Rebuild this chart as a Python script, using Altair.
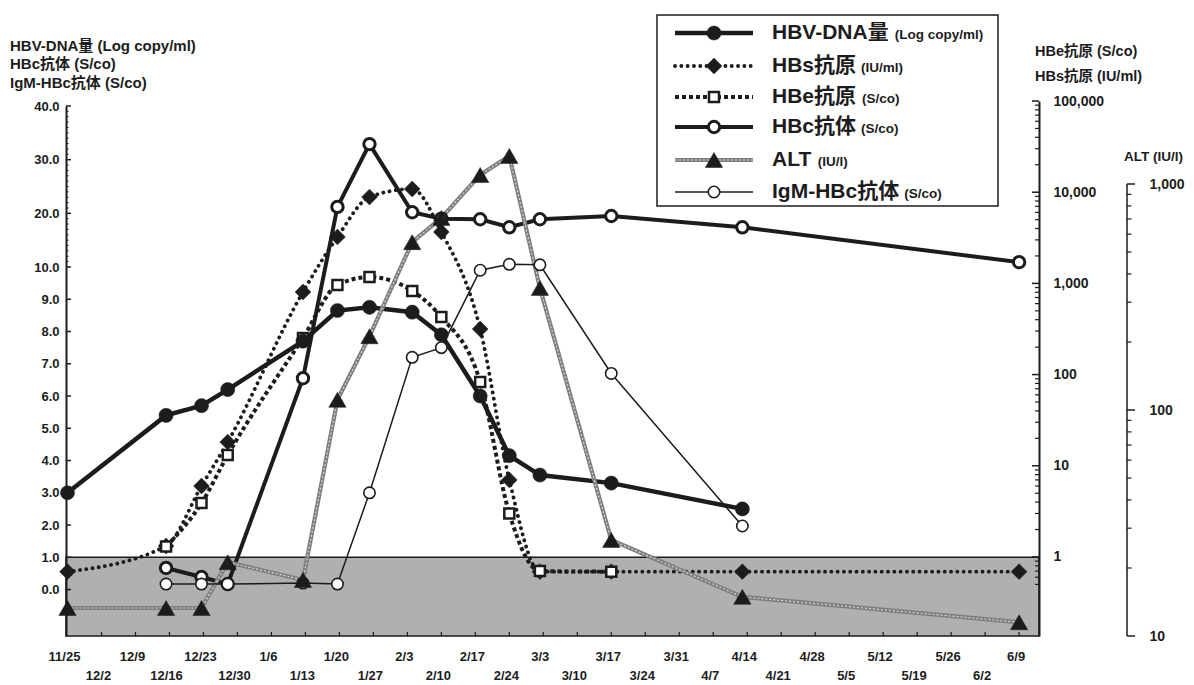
import altair as alt
import pandas as pd

# ---------------- data ----------------
dates = ["11/25", "12/16", "12/23", "12/28", "1/13", "1/20", "1/27", "2/4",
         "2/10", "2/18", "2/24", "3/3", "3/17", "4/13", "6/9"]
days = [0, 20.3, 27.6, 33.0, 48.5, 55.6, 62.2, 71.0, 77.0, 85.0, 91.0, 97.3, 112.0, 139.0, 196.0]

hbv_dna = [3.0, 5.4, 5.7, 6.2, 7.7, 8.65, 8.75, 8.6, 7.9, 6.0, 4.15, 3.55, 3.3, 2.5, None]
hbs_ag = [0.69, 1.32, 6.0, 18.2, 805, 3230, 8850, 10840, 3660, 316, 7.0, 0.69, 0.69, 0.69, 0.69]
hbe_ag = [None, 1.3, 3.9, 13.1, 252, 960, 1175, 826, 428, 83, 3.0, 0.70, 0.69, None, None]
hbc_ab = [None, 0.67, 0.39, 0.17, 6.55, 21.2, 32.9, 20.2, 19.0, 18.9, 17.4, 18.9, 19.5, 17.4, 10.9]
alt_iu = [13.3, 13.3, 13.3, 21.2, 17.7, 111, 212, 553, 708, 1097, 1331, 347, 26.6, 14.9, 11.5]
igm_hbc = [None, 0.17, 0.17, 0.17, 0.2, 0.17, 3.0, 7.2, 7.5, 9.9, 10.5, 10.4, 6.7, 1.97, None]

cutoff = [1.0]

tick_labels_top = ["11/25", "12/9", "12/23", "1/6", "1/20", "2/3", "2/17", "3/3",
                   "3/17", "3/31", "4/14", "4/28", "5/12", "5/26", "6/9"]
tick_days_top = [0, 14, 28, 42, 56, 70, 84, 98, 112, 126, 140, 154, 168, 182, 196]
tick_labels_bottom = ["12/2", "12/16", "12/30", "1/13", "1/27", "2/10", "2/24",
                      "3/10", "3/24", "4/7", "4/21", "5/5", "5/19", "6/2"]
tick_days_bottom = [7, 21, 35, 49, 63, 77, 91, 105, 119, 133, 147, 161, 175, 189]

left_major = [0, 1, 2, 3, 4, 5, 6, 7, 8, 9, 10, 20, 30, 40]
left_minor = [v for v in range(11, 40) if v not in (20, 30)]
right_major = [1, 10, 100, 1000, 10000, 100000]
right_minor = [m * 10 ** e for e in range(-1, 5) for m in range(2, 10) if m * 10 ** e > 0.45]
alt_major = [10, 100, 1000]
alt_minor = [m * 10 ** e for e in (1, 2) for m in range(2, 10)]
alt_axis_span = [10, 1000]

legend_names = ["HBV-DNA量", "HBs抗原", "HBe抗原", "HBc抗体", "ALT", "IgM-HBc抗体"]
legend_units = ["(Log copy/ml)", "(IU/ml)", "(S/co)", "(S/co)", "(IU/l)", "(S/co)"]

left_titles = ["HBV-DNA量 (Log copy/ml)", "HBc抗体 (S/co)", "IgM-HBc抗体 (S/co)"]
right_titles = ["HBe抗原 (S/co)", "HBs抗原 (IU/ml)"]
alt_title = "ALT (IU/l)"

# ---------------- style / layout ----------------
FONT = "Liberation Sans, Noto Sans CJK JP, sans-serif"
INK = "#1c1c1c"
SHADE = "#b0b0b0"
ALT_GREY = "#7e7e7e"
W, H = 973, 532

xs = alt.Scale(domain=[-0.31, 200.1], nice=False, zero=False)
ls = alt.Scale(domain=[-1.44, 10, 40], range=[H, 163, 2], nice=False, zero=False)
rs = alt.Scale(type="log", domain=[0.136, 100000], range=[H, -3], nice=False)
als = alt.Scale(type="log", domain=[10, 1000], range=[H, 80], nice=False)
X = alt.X("day:Q", scale=xs, axis=None)


def series(vals):
    return pd.DataFrame({"date": dates, "day": days, "v": vals}).dropna()


lab = dict(labelFont=FONT, labelFontWeight="bold", labelColor=INK, labelFlush=False,
           labelOverlap=False, grid=False, ticks=False, title=None, zindex=1)
left_axis = alt.Axis(orient="left", values=left_major, format=".1f", domainColor=INK,
                     domainWidth=2, labelFontSize=13, labelPadding=7, **lab)
right_axis = alt.Axis(orient="right", values=right_major, format=",", domainColor=INK,
                      domainWidth=2, labelFontSize=14, labelPadding=14, **lab)
alt_axis = alt.Axis(orient="right", offset=88, values=alt_major, format=",", domain=False,
                    labelFontSize=14, labelPadding=22, **lab)


def line_layer(vals, scale, axis=None, **kw):
    return alt.Chart(series(vals)).mark_line(**kw).encode(
        x=X, y=alt.Y("v:Q", scale=scale, axis=axis))


def point_layer(vals, scale, **kw):
    return alt.Chart(series(vals)).mark_point(opacity=1, filled=True, **kw).encode(
        x=X, y=alt.Y("v:Q", scale=scale, axis=None))


def tick_layer(vals, scale, x1, x2, width=1.5):
    return alt.Chart(pd.DataFrame({"v": vals})).mark_rule(color=INK, strokeWidth=width).encode(
        y=alt.Y("v:Q", scale=scale, axis=None), x=alt.value(x1), x2=alt.value(x2))


dummy = pd.DataFrame({"k": [0]})


def px_rule(x1, x2, y, **kw):
    return alt.Chart(dummy).mark_rule(**kw).encode(x=alt.value(x1), x2=alt.value(x2), y=alt.value(y))


def px_point(x, y, **kw):
    return alt.Chart(dummy).mark_point(opacity=1, filled=True, **kw).encode(x=alt.value(x), y=alt.value(y))


def px_text(x, y, txt, size, align="left"):
    return alt.Chart(pd.DataFrame({"t": [txt]})).mark_text(
        font=FONT, fontSize=size, fontWeight="bold", color=INK, align=align, baseline="middle"
    ).encode(x=alt.value(x), y=alt.value(y), text="t:N")


# approximate bold Arial advance widths (per em) to place legend units after names
AW = {" ": .278, "(": .333, ")": .333, "-": .333, "/": .278, "A": .722, "B": .722, "D": .722,
      "H": .722, "I": .278, "L": .611, "M": .833, "N": .722, "T": .611, "V": .667, "c": .556,
      "g": .611, "s": .556}


def text_w(s, size):
    return sum(AW.get(ch, 1.0 if ord(ch) > 0x2e80 else .6) for ch in s) * size


layers = []

# shaded "negative" band with the left axis
layers.append(
    alt.Chart(pd.DataFrame({"v": cutoff})).mark_rect(fill=SHADE, stroke=INK, strokeWidth=1.5).encode(
        x=alt.value(0), x2=alt.value(W), y=alt.Y("v:Q", scale=ls, axis=left_axis), y2=alt.value(H))
)

# weekly ticks on the bottom edge
layers.append(
    alt.Chart(pd.DataFrame({"day": sorted(tick_days_top[1:] + tick_days_bottom)})).mark_rule(
        color=INK, strokeWidth=1.2).encode(x=X, y=alt.value(H), y2=alt.value(H - 4))
)

# axis tick marks (inward)
layers.append(tick_layer(left_major, ls, 0, 5))
layers.append(tick_layer(left_minor, ls, 0, 2.5, 1))
layers.append(tick_layer(right_major, rs, W - 7, W))
layers.append(tick_layer(right_minor, rs, W - 4, W, 1.2))
AX = W + 88
layers.append(
    alt.Chart(pd.DataFrame({"v": [alt_axis_span[0]], "v2": [alt_axis_span[1]]})).mark_rule(
        color=INK, strokeWidth=1.5).encode(
        y=alt.Y("v:Q", scale=als, axis=None), y2="v2:Q", x=alt.value(AX))
)
layers.append(tick_layer(alt_major, als, AX, AX + 8))
layers.append(tick_layer(alt_minor, als, AX, AX + 4.5, 1.2))

# lines
layers.append(line_layer(hbs_ag, rs, axis=right_axis, color=INK, strokeWidth=3.8,
                         strokeDash=[0.1, 6.2], strokeCap="round", interpolate="monotone"))
layers.append(line_layer(hbe_ag, rs, color=INK, strokeWidth=4, strokeDash=[4, 3],
                         interpolate="monotone"))
layers.append(line_layer(hbv_dna, ls, color=INK, strokeWidth=4.5))
layers.append(line_layer(hbc_ab, ls, color=INK, strokeWidth=4))
layers.append(line_layer(alt_iu, als, axis=alt_axis, color=ALT_GREY, strokeWidth=4.2))
layers.append(line_layer(alt_iu, als, color="#d8d8d8", strokeWidth=1.2, strokeDash=[2, 2]))
layers.append(line_layer(igm_hbc, ls, color=INK, strokeWidth=1.5))

# markers
layers.append(point_layer(hbs_ag, rs, shape="diamond", size=250, fill=INK, stroke=INK, strokeWidth=0.5))
layers.append(point_layer(hbe_ag, rs, shape="square", size=100, fill="white", stroke=INK, strokeWidth=2.5))
layers.append(point_layer(hbv_dna, ls, shape="circle", size=200, fill=INK, stroke=INK, strokeWidth=0.5))
layers.append(point_layer(hbc_ab, ls, shape="circle", size=130, fill="white", stroke=INK, strokeWidth=3))
layers.append(point_layer(igm_hbc, ls, shape="circle", size=130, fill="white", stroke=INK, strokeWidth=1.6))
layers.append(point_layer(alt_iu, als, shape="triangle-up", size=300, fill=INK, stroke=INK, strokeWidth=0.5))

# x tick labels (two staggered rows)
for dlist, llist, ypos in ((tick_days_top, tick_labels_top, 553), (tick_days_bottom, tick_labels_bottom, 572)):
    layers.append(
        alt.Chart(pd.DataFrame({"day": dlist, "lab": llist})).mark_text(
            font=FONT, fontSize=13, fontWeight="bold", color=INK, baseline="middle", dx=-3
        ).encode(x=X, y=alt.value(ypos), text="lab:N")
    )

# axis titles
for txt, ypos in zip(left_titles, (-58, -40, -21)):
    layers.append(px_text(-56, ypos, txt, 15))
for txt, ypos in zip(right_titles, (-52, -27)):
    layers.append(px_text(969, ypos, txt, 14.5))
layers.append(px_text(1058, 53, alt_title, 13.5))

# legend
layers.append(
    alt.Chart(dummy).mark_rect(fill="white", stroke=INK, strokeWidth=1.5).encode(
        x=alt.value(591), x2=alt.value(932), y=alt.value(-89), y2=alt.value(102))
)
rows = [-71, -38, -7, 23, 56, 88]
LX1, LX2, LSX, LTX = 609, 687, 648, 706
# HBV
layers.append(px_rule(LX1, LX2, rows[0], color=INK, strokeWidth=4.5))
layers.append(px_point(LSX, rows[0], shape="circle", size=200, fill=INK, stroke=INK, strokeWidth=0.5))
# HBs
layers.append(px_rule(LX1, LX2, rows[1], color=INK, strokeWidth=3.8, strokeDash=[0.1, 6.2], strokeCap="round"))
layers.append(px_point(LSX, rows[1], shape="diamond", size=250, fill=INK, stroke=INK, strokeWidth=0.5))
# HBe
layers.append(px_rule(LX1, LX2, rows[2], color=INK, strokeWidth=4, strokeDash=[4, 3]))
layers.append(px_point(LSX, rows[2], shape="square", size=100, fill="white", stroke=INK, strokeWidth=2.5))
# HBc
layers.append(px_rule(LX1, LX2, rows[3], color=INK, strokeWidth=4))
layers.append(px_point(LSX, rows[3], shape="circle", size=130, fill="white", stroke=INK, strokeWidth=3))
# ALT
layers.append(px_rule(LX1, LX2, rows[4], color=ALT_GREY, strokeWidth=4.2))
layers.append(px_rule(LX1, LX2, rows[4], color="#d8d8d8", strokeWidth=1.2, strokeDash=[2, 2]))
layers.append(px_point(LSX, rows[4], shape="triangle-up", size=300, fill=INK, stroke=INK, strokeWidth=0.5))
# IgM
layers.append(px_rule(LX1, LX2, rows[5], color=INK, strokeWidth=1.5))
layers.append(px_point(LSX, rows[5], shape="circle", size=130, fill="white", stroke=INK, strokeWidth=1.6))

NAME_SIZE, UNIT_SIZE = 21, 13.5
for name, unit, ypos in zip(legend_names, legend_units, rows):
    layers.append(px_text(LTX, ypos, name, NAME_SIZE))
    layers.append(px_text(LTX + text_w(name, NAME_SIZE) + 5, ypos + 1.5, unit, UNIT_SIZE))

chart = alt.layer(*layers).resolve_scale(y="independent").properties(
    width=W, height=H,
    autosize=alt.AutoSizeParams(type="none"),
    padding={"left": 58, "top": 96, "right": 147, "bottom": 58},
    background="white",
).configure_view(stroke=None)

chart.save("out.html", embed_options={"renderer": "svg", "actions": False})
